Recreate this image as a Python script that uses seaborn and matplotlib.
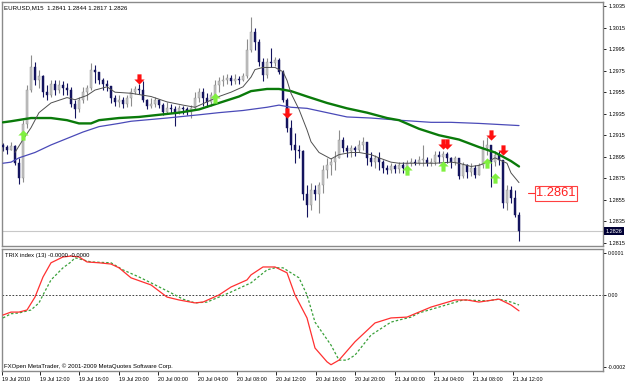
import numpy as np
import pandas as pd
import seaborn as sns
import matplotlib
matplotlib.use("Agg")
import matplotlib.pyplot as plt
from matplotlib.path import Path
import matplotlib.transforms as mtransforms

# ---------------- data ----------------
symbol = "EURUSD,M15"
first_open = 1.2906
closes = [1.2904,1.2901,1.2905,1.2889,1.2875,1.2925,1.2957,1.2978,1.2966,1.2970,
          1.2955,1.2952,1.2963,1.2957,1.2962,1.2959,1.2957,1.2944,1.2939,1.2948,
          1.2955,1.2959,1.2976,1.2974,1.2966,1.2963,1.2961,1.2950,1.2946,1.2948,
          1.2944,1.2950,1.2955,1.2958,1.2957,1.2948,1.2942,1.2944,1.2948,1.2943,
          1.2937,1.2940,1.2939,1.2937,1.2940,1.2939,1.2937,1.2940,1.2950,1.2955,
          1.2950,1.2946,1.2952,1.2962,1.2965,1.2966,1.2968,1.2965,1.2967,1.2966,
          1.2970,1.2994,1.3011,1.3002,1.2983,1.2971,1.2983,1.2982,1.2985,1.2974,
          1.2948,1.2922,1.2906,1.2901,1.2900,1.2860,1.2850,1.2864,1.2860,1.2869,
          1.2883,1.2887,1.2890,1.2894,1.2911,1.2903,1.2900,1.2903,1.2901,1.2906,
          1.2909,1.2894,1.2890,1.2894,1.2890,1.2885,1.2883,1.2886,1.2884,1.2887,
          1.2885,1.2889,1.2890,1.2889,1.2892,1.2892,1.2889,1.2890,1.2897,1.2895,
          1.2898,1.2894,1.2890,1.2894,1.2877,1.2887,1.2881,1.2885,1.2878,1.2887,
          1.2903,1.2906,1.2890,1.2897,1.2892,1.2852,1.2864,1.2857,1.2841,1.2826]
highs = [1.2908,1.2906,1.2909,1.2906,1.2894,1.2929,1.2962,1.2990,1.2983,1.2976,
         1.2971,1.2962,1.2966,1.2966,1.2966,1.2965,1.2964,1.2960,1.2948,1.2951,
         1.2960,1.2962,1.2982,1.2980,1.2971,1.2968,1.2966,1.2961,1.2952,1.2952,
         1.2951,1.2952,1.2959,1.2961,1.2963,1.2965,1.2949,1.2950,1.2951,1.2949,
         1.2945,1.2946,1.2944,1.2942,1.2943,1.2942,1.2941,1.2943,1.2955,1.2959,
         1.2959,1.2954,1.2955,1.2966,1.2969,1.2971,1.2972,1.2971,1.2972,1.2970,
         1.2973,1.3004,1.3025,1.3015,1.3004,1.2987,1.2987,1.2996,1.2988,1.2987,
         1.2976,1.2950,1.2929,1.2917,1.2906,1.2901,1.2869,1.2871,1.2869,1.2872,
         1.2887,1.2894,1.2894,1.2900,1.2920,1.2913,1.2906,1.2906,1.2905,1.2911,
         1.2913,1.2906,1.2899,1.2897,1.2899,1.2892,1.2887,1.2889,1.2888,1.2890,
         1.2890,1.2892,1.2894,1.2893,1.2896,1.2906,1.2895,1.2894,1.2900,1.2900,
         1.2900,1.2899,1.2895,1.2896,1.2890,1.2890,1.2888,1.2889,1.2887,1.2889,
         1.2911,1.2913,1.2903,1.2900,1.2900,1.2889,1.2869,1.2868,1.2864,1.2844]
lows = [1.2900,1.2898,1.2901,1.2887,1.2870,1.2872,1.2922,1.2955,1.2962,1.2959,
        1.2951,1.2948,1.2951,1.2952,1.2954,1.2952,1.2952,1.2941,1.2931,1.2937,
        1.2945,1.2948,1.2957,1.2964,1.2963,1.2957,1.2956,1.2945,1.2942,1.2941,
        1.2940,1.2941,1.2942,1.2953,1.2953,1.2946,1.2939,1.2940,1.2941,1.2940,
        1.2934,1.2936,1.2936,1.2924,1.2935,1.2935,1.2934,1.2931,1.2939,1.2946,
        1.2942,1.2941,1.2942,1.2951,1.2955,1.2961,1.2963,1.2962,1.2963,1.2963,
        1.2965,1.2968,1.2992,1.2994,1.2979,1.2965,1.2968,1.2978,1.2979,1.2972,
        1.2946,1.2918,1.2901,1.2889,1.2894,1.2855,1.2839,1.2846,1.2855,1.2843,
        1.2861,1.2875,1.2878,1.2883,1.2894,1.2899,1.2895,1.2895,1.2896,1.2899,
        1.2901,1.2887,1.2886,1.2885,1.2883,1.2880,1.2879,1.2880,1.2880,1.2880,
        1.2880,1.2883,1.2886,1.2887,1.2887,1.2886,1.2886,1.2886,1.2887,1.2889,
        1.2890,1.2889,1.2885,1.2887,1.2874,1.2875,1.2875,1.2877,1.2875,1.2883,
        1.2885,1.2897,1.2867,1.2886,1.2887,1.2847,1.2846,1.2852,1.2839,1.2817]

# moving averages (bar index, value)
ma_fast_idx = [3,5,7,9,12,16,18,21,23,26,28,32,37,41,45,48,51,54,57,60,62,63,65,68,70,71,72,74,76,77,79,82,
               84,87,89,92,94,97,99,104,108,112,114,117,119,121,123,126,127,129]
ma_fast_val = [1.2899,1.2911,1.2922,1.2936,1.2945,1.2950,1.2948,1.2952,1.2957,1.2960,1.2955,1.2954,1.2951,
               1.2946,1.2943,1.2941,1.2946,1.2951,1.2955,1.2960,1.2969,1.2976,1.2978,1.2978,1.2974,1.2966,
               1.2954,1.2939,1.2920,1.2909,1.2899,1.2893,1.2897,1.2899,1.2899,1.2897,1.2894,1.2890,1.2889,
               1.2889,1.2889,1.2890,1.2889,1.2886,1.2887,1.2890,1.2894,1.2889,1.2880,1.2871]
ma_mid_idx = [0,2,7,12,16,19,22,24,29,34,39,44,49,54,59,62,66,69,72,76,81,86,91,96,99,104,109,114,119,123,127,129]
ma_mid_val = [1.2927,1.2928,1.2931,1.2931,1.2929,1.2926,1.2926,1.2929,1.2931,1.2932,1.2934,1.2936,1.2939,
              1.2945,1.2951,1.2956,1.2958,1.2958,1.2956,1.2951,1.2945,1.2940,1.2936,1.2931,1.2929,1.2921,
              1.2915,1.2911,1.2904,1.2899,1.2891,1.2886]
ma_slow_idx = [0,2,4,8,12,16,20,24,29,32,41,49,54,60,66,69,72,76,81,86,92,99,107,112,119,124,129]
ma_slow_val = [1.2889,1.2890,1.2894,1.2899,1.2906,1.2912,1.2918,1.2923,1.2926,1.2928,1.2931,1.2934,1.2936,
               1.2938,1.2941,1.2943,1.2941,1.2940,1.2936,1.2932,1.2931,1.2929,1.2927,1.2927,1.2926,1.2925,1.2924]

# TRIX (values in units of 1e-4)
trix_idx = [0,2,4,6,8,10,12,15,17,19,21,24,27,29,32,37,41,44,48,50,54,57,61,62,65,68,71,73,76,78,81,82,84,
            88,93,97,101,104,107,113,116,119,124,127,129]
trix_e4 = [-0.48,-0.41,-0.41,-0.36,-0.05,0.43,0.77,0.91,0.93,0.91,0.79,0.77,0.74,0.65,0.41,0.24,-0.05,-0.12,
           -0.19,-0.17,0.0,0.19,0.36,0.48,0.67,0.67,0.53,0.0,-0.55,-1.27,-1.60,-1.67,-1.56,-1.12,-0.67,-0.55,
           -0.53,-0.41,-0.29,-0.12,-0.12,-0.17,-0.10,-0.24,-0.38]
signal_idx = [0,2,4,7,9,10,12,15,17,18,20,22,27,30,34,37,42,45,48,51,54,57,62,66,68,70,74,76,78,82,84,86,88,
              92,97,99,102,104,109,115,121,124,127,129]
signal_e4 = [-0.55,-0.45,-0.43,-0.36,-0.19,0.0,0.36,0.65,0.79,0.89,0.84,0.79,0.77,0.60,0.43,0.29,0.05,-0.10,
             -0.19,-0.17,-0.05,0.07,0.29,0.60,0.65,0.65,0.41,0.0,-0.65,-1.20,-1.56,-1.56,-1.44,-0.96,-0.65,
             -0.60,-0.53,-0.43,-0.29,-0.12,-0.14,-0.10,-0.17,-0.24]

# signal arrows
sell_idx = [34, 71, 110, 111, 122, 125]
sell_price = [1.2967, 1.2936, 1.2907, 1.2907, 1.2915, 1.2901]
buy_idx = [5, 53, 101, 110, 121, 123]
buy_price = [1.2915, 1.2950, 1.2883, 1.2886, 1.2889, 1.2875]

label_price = 1.2861
price_ticks = [1.3035, 1.3015, 1.2995, 1.2975, 1.2955, 1.2935, 1.2915, 1.2895, 1.2875, 1.2855, 1.2835, 1.2815]
time_labels = ["19 Jul 2010", "19 Jul 12:00", "19 Jul 16:00", "19 Jul 20:00", "20 Jul 00:00", "20 Jul 04:00",
               "20 Jul 08:00", "20 Jul 12:00", "20 Jul 16:00", "20 Jul 20:00", "21 Jul 00:00", "21 Jul 04:00",
               "21 Jul 08:00", "21 Jul 12:00"]
trix_title = "TRIX index (13) -0.0000 -0.0000"
copyright_txt = "FXOpen MetaTrader, \u00a9 2001-2009 MetaQuotes Software Corp."

# ---------------- style ----------------
sns.set_style("white")
plt.rcParams['font.family'] = ['Liberation Sans', 'DejaVu Sans']

W, H = 625, 382
fig = plt.figure(figsize=(W / 100, H / 100), dpi=100)
ax1 = fig.add_axes([2 / W, 1 - 246 / H, 601 / W, 244 / H])
ax2 = fig.add_axes([2 / W, 1 - 371 / H, 601 / W, 122 / H])

df = pd.DataFrame({"close": closes, "high": highs, "low": lows})
df["open"] = [first_open] + closes[:-1]
df["i"] = np.arange(len(df))
df["hi"] = df[["high", "open", "close"]].max(axis=1)
df["lo"] = df[["low", "open", "close"]].min(axis=1)
bull = df["close"] >= df["open"]

# candles
for mask, body, wick in [(bull, "#c4c4c4", "#8c8c8c"), (~bull, "#14145e", "#14145e")]:
    d = df[mask]
    ax1.vlines(d["i"], d["lo"], d["hi"], color=wick, lw=0.8, zorder=2)
    hgt = np.maximum((d["close"] - d["open"]).abs(), 0.00006)
    ax1.bar(d["i"], hgt, bottom=np.minimum(d["open"], d["close"]), width=0.65,
            color=body, edgecolor=wick, linewidth=0.3, zorder=3)

# current price line
ax1.axhline(closes[-1], color="#c8c8c8", lw=0.8, zorder=1)

# moving averages
sns.lineplot(x=ma_slow_idx, y=ma_slow_val, ax=ax1, color="#4a4ab8", lw=0.9, zorder=4)
sns.lineplot(x=ma_mid_idx, y=ma_mid_val, ax=ax1, color="#0a7a0a", lw=1.7, zorder=4)
sns.lineplot(x=ma_fast_idx, y=ma_fast_val, ax=ax1, color="#505050", lw=0.7, zorder=4)

# arrows
down = Path([(-0.2, 0.5), (0.2, 0.5), (0.2, 0.0), (0.5, 0.0), (0.0, -0.5), (-0.5, 0.0), (-0.2, 0.0), (-0.2, 0.5)],
            [Path.MOVETO] + [Path.LINETO] * 6 + [Path.CLOSEPOLY])
up = Path([(-0.2, -0.5), (0.2, -0.5), (0.2, 0.0), (0.5, 0.0), (0.0, 0.5), (-0.5, 0.0), (-0.2, 0.0), (-0.2, -0.5)],
          [Path.MOVETO] + [Path.LINETO] * 6 + [Path.CLOSEPOLY])
ax1.scatter(sell_idx, sell_price, marker=down, s=55, color="#ff1010", linewidths=0, zorder=6)
ax1.scatter(buy_idx, buy_price, marker=up, s=55, color="#80f040", linewidths=0, zorder=6)

# red price label
ax1.plot([131.3, 133], [label_price, label_price], color="#ff3030", lw=0.8, zorder=5)
ax1.text(133.3, label_price, f"{label_price:.4f}", color="#ff2020", fontsize=9.3, va="center", ha="left",
         bbox=dict(boxstyle="square,pad=0.12", fc="white", ec="#ff4040", lw=0.8), zorder=7)

ax1.set_xlim(-0.25, 150)
ax1.set_ylim(1.28121, 1.30388)
ax1.set_yticks(price_ticks)
ax1.set_yticklabels([f"{p:.4f}" for p in price_ticks])
ax1.yaxis.tick_right()
ax1.tick_params(axis="y", which="both", right=True, left=False, length=2, width=0.6, pad=1.8,
                labelsize=4.0, colors="#000000")
ax1.set_xticks([])
ax1.set_xlabel("")
ax1.set_ylabel("")

# current price box on axis
trans = mtransforms.blended_transform_factory(ax1.transAxes, ax1.transData)
ax1.text(1.004, closes[-1], f"{closes[-1]:.4f}", transform=trans, fontsize=4.0, color="white",
         va="center", ha="left", bbox=dict(boxstyle="square,pad=0.25", fc="#000034", ec="none"), clip_on=False)

# ---------------- TRIX panel ----------------
sns.lineplot(x=signal_idx, y=np.array(signal_e4) * 1e-4, ax=ax2, color="#3aa03a", lw=0.9,
             linestyle=(0, (2, 1.6)), zorder=3)
sns.lineplot(x=trix_idx, y=np.array(trix_e4) * 1e-4, ax=ax2, color="#ff3030", lw=0.9, zorder=4)
ax2.axhline(0, color="#202020", lw=0.6, linestyle=(0, (2, 2)), zorder=2)
ax2.set_xlim(-0.25, 150)
ax2.set_ylim(-1.82e-4, 1.10e-4)
ax2.set_yticks([1.0e-4, 0.0, -1.72e-4])
ax2.set_yticklabels(["0.0001", "0.00", "-0.0002"])
ax2.yaxis.tick_right()
ax2.tick_params(axis="y", right=True, left=False, length=2, width=0.6, pad=1.2, labelsize=3.8, colors="#000000")
tick_pos = [-0.25] + [9.25 + 9.85 * k for k in range(len(time_labels) - 1)]
ax2.set_xticks(tick_pos)
ax2.set_xticklabels(time_labels, ha="left")
ax2.tick_params(axis="x", bottom=True, length=3, width=0.6, pad=1.5, labelsize=3.9, colors="#000000")
ax2.set_xlabel("")
ax2.set_ylabel("")

for ax in (ax1, ax2):
    for s in ax.spines.values():
        s.set_color("#8a8a8a")
        s.set_linewidth(1.0)

fig.text(4 / W, 1 - 8 / H, f"{symbol}  {df['open'].iloc[-1]:.4f} {highs[-1]:.4f} {lows[-1]:.4f} {closes[-1]:.4f}",
         fontsize=4.4, va="center", ha="left", color="#000000")
fig.text(5 / W, 1 - 255 / H, trix_title, fontsize=4.2, va="center", ha="left", color="#000000")
fig.text(4 / W, 1 - 366 / H, copyright_txt, fontsize=4.3, va="center", ha="left", color="#000000")

fig.savefig("out.png", dpi=100)
